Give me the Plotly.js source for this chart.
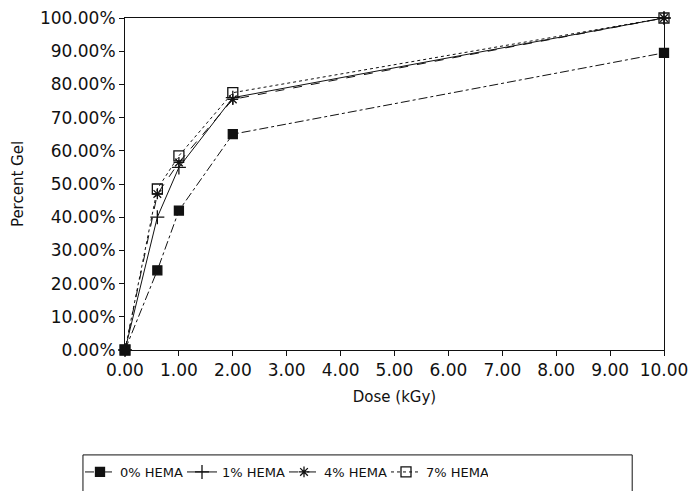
<!DOCTYPE html>
<html><head><meta charset="utf-8">
<script src="https://cdn.plot.ly/plotly-3.0.1.min.js"></script>
<style>body{margin:0;background:#fff}#c{width:690px;height:491px}</style>
</head><body><div id="c"></div>
<script>
const dose = [0, 0.6, 1.0, 2.0, 10.0];
const hema0 = [0, 24, 42, 65, 89.5];
const hema1 = [0, 40, 55, 76, 100];
const hema4 = [0, 47, 56.5, 75.5, 100];
const hema7 = [0, 48.5, 58.5, 77.5, 100];
const seriesNames = ['0% HEMA', '1% HEMA', '4% HEMA', '7% HEMA'];
const xTicks = [0,1,2,3,4,5,6,7,8,9,10];
const yTicks = [0,10,20,30,40,50,60,70,80,90,100];
const yTickText = yTicks.map(v => v.toFixed(2) + '%');
const xTickText = xTicks.map(v => v.toFixed(2));

const font = "DejaVu Sans, sans-serif";
function tr(y, name, dash, sym, size) {
  return {x: dose, y: y, name: name, mode: 'lines+markers', type: 'scatter', cliponaxis: false,
    line: {color: '#111', width: 1, dash: dash},
    marker: {symbol: sym, size: size, color: '#111', line: {color: '#111', width: 1.3}}};
}
const data = [
  tr(hema0, seriesNames[0], 'dashdot', 'square', 9),
  tr(hema1, seriesNames[1], 'solid', 'cross-thin-open', 10),
  tr(hema4, seriesNames[2], 'dash', 'asterisk-open', 9),
  tr(hema7, seriesNames[3], 'dot', 'square-open', 10)
];
const layout = {
  width: 690, height: 491,
  margin: {l: 125, r: 26, t: 18, b: 141},
  paper_bgcolor: '#fff', plot_bgcolor: '#fff',
  font: {family: font, color: '#111'},
  showlegend: true,
  legend: {orientation: 'h', xref: 'container', yref: 'container',
    x: 80/690, xanchor: 'left', y: 1 - 472/491, yanchor: 'middle',
    borderwidth: 0, bgcolor: 'rgba(0,0,0,0)', font: {size: 13, family: font},
    itemwidth: 30, entrywidth: 57, entrywidthmode: 'pixels'},
  shapes: [{type: 'rect', xref: 'paper', yref: 'paper', x0: -0.078, x1: 0.941, y0: -0.316, y1: -0.43,
    line: {color: '#111', width: 1}, fillcolor: 'rgba(0,0,0,0)'}],
  xaxis: {range: [0, 10], tickmode: 'array', tickvals: xTicks, ticktext: xTickText,
    showgrid: false, zeroline: false, showline: true, linecolor: '#111', linewidth: 1,
    mirror: true, ticks: 'outside', ticklen: 5, tickcolor: '#111', ticklabeloverflow: 'allow',
    tickfont: {size: 17, family: font},
    title: {text: 'Dose (kGy)', font: {size: 15, family: font}, standoff: 12}},
  yaxis: {range: [0, 100], tickmode: 'array', tickvals: yTicks, ticktext: yTickText,
    showgrid: false, zeroline: false, showline: true, linecolor: '#111', linewidth: 1,
    mirror: true, ticks: 'outside', ticklen: 5, tickcolor: '#111',
    tickfont: {size: 17, family: font},
    title: {text: 'Percent Gel', font: {size: 15, family: font}, standoff: 12}}
};
Plotly.newPlot('c', data, layout, {displayModeBar: false, staticPlot: true});
</script></body></html>
